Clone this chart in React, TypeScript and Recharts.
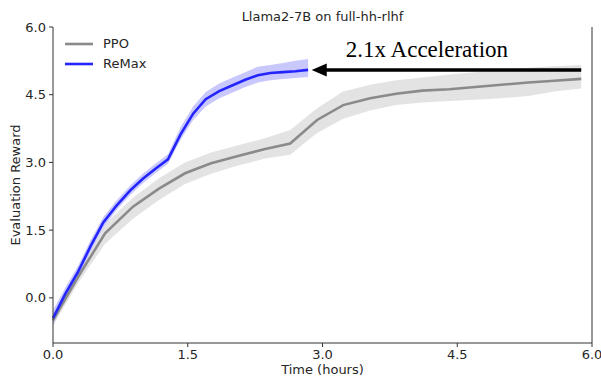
import React from 'react';
import {
  ComposedChart, Line, Area, XAxis, YAxis, ReferenceLine, ReferenceDot,
} from 'recharts';

// ---- data ----
const ppoTime = [0, 0.29, 0.58, 0.89, 1.18, 1.47, 1.76, 2.06, 2.35, 2.64, 2.94, 3.23, 3.53, 3.82, 4.11, 4.41, 4.70, 4.99, 5.29, 5.58, 5.88];
const ppoMean = [-0.5, 0.5, 1.43, 2.02, 2.42, 2.76, 2.98, 3.14, 3.29, 3.42, 3.94, 4.27, 4.42, 4.52, 4.59, 4.62, 4.67, 4.72, 4.77, 4.81, 4.85];
const ppoLow = [-0.62, 0.36, 1.2, 1.75, 2.17, 2.52, 2.75, 2.93, 3.08, 3.17, 3.65, 3.97, 4.15, 4.27, 4.33, 4.36, 4.39, 4.42, 4.47, 4.57, 4.64];
const ppoHigh = [-0.38, 0.64, 1.64, 2.22, 2.65, 3.0, 3.22, 3.38, 3.53, 3.72, 4.2, 4.57, 4.72, 4.82, 4.88, 4.95, 5.0, 5.05, 5.1, 5.13, 5.16];

const remaxTime = [0, 0.14, 0.28, 0.42, 0.56, 0.71, 0.86, 1.0, 1.14, 1.28, 1.42, 1.56, 1.70, 1.85, 2.0, 2.14, 2.28, 2.42, 2.56, 2.70, 2.84];
const remaxMean = [-0.45, 0.1, 0.58, 1.15, 1.67, 2.05, 2.38, 2.64, 2.86, 3.07, 3.62, 4.08, 4.4, 4.58, 4.71, 4.83, 4.93, 4.98, 5.0, 5.02, 5.05];
const remaxLow = [-0.6, -0.03, 0.46, 1.03, 1.56, 1.95, 2.28, 2.54, 2.76, 2.97, 3.5, 3.94, 4.24, 4.42, 4.55, 4.67, 4.77, 4.82, 4.85, 4.87, 4.89];
const remaxHigh = [-0.28, 0.24, 0.71, 1.28, 1.79, 2.16, 2.49, 2.75, 2.97, 3.18, 3.78, 4.24, 4.56, 4.75, 4.88, 5.0, 5.12, 5.16, 5.2, 5.25, 5.29];

const xTicks = [0, 1.5, 3, 4.5, 6];
const yTicks = [0, 1.5, 3, 4.5, 6];

const title = 'Llama2-7B on full-hh-rlhf';
const annotationText = '2.1x Acceleration';
const arrowTip = { x: 2.88, y: 5.05 };
const arrowTail = { x: 5.88, y: 5.05 };
const textAnchorPoint = { x: 3.26, y: 5.33 };

const series = [
  { name: 'PPO', color: '#8a8a8a', band: '#e3e3e3' },
  { name: 'ReMax', color: '#2424ff', band: '#c8c8fc' },
];

const ppoData = ppoTime.map((t, i) => ({ t, v: ppoMean[i], range: [ppoLow[i], ppoHigh[i]] }));
const remaxData = remaxTime.map((t, i) => ({ t, v: remaxMean[i], range: [remaxLow[i], remaxHigh[i]] }));

const FONT = 'DejaVu Sans';
const AXIS = '#333333';
const TEXT = '#262626';
const fmt = (v: number) => v.toFixed(1);

const LegendBox = () => (
  <div style={{ position: 'absolute', left: 65, top: 34, fontFamily: FONT, fontSize: 13, color: TEXT }}>
    {series.map((s) => (
      <div key={s.name} style={{ display: 'flex', alignItems: 'center', height: 20 }}>
        <svg width={28} height={4} style={{ display: 'block' }}>
          <line x1={0} y1={2} x2={28} y2={2} stroke={s.color} strokeWidth={2.6} />
        </svg>
        <span style={{ marginLeft: 10, lineHeight: '20px' }}>{s.name}</span>
      </div>
    ))}
  </div>
);

const ArrowHead = (props: any) => {
  const { cx, cy } = props;
  return <path d={`M${cx},${cy} L${cx + 15},${cy - 6.5} L${cx + 15},${cy + 6.5} Z`} fill="#000" />;
};

const AnnotationText = (props: any) => {
  const { cx, cy } = props;
  return (
    <text x={cx} y={cy} fontFamily="Liberation Serif" fontSize={23} fill="#000" textAnchor="start">
      {annotationText}
    </text>
  );
};

const YLabel = (props: any) => {
  const vb = props.viewBox || { x: 0, y: 27, width: 53, height: 316 };
  const x = 15;
  const y = vb.y + vb.height / 2;
  return (
    <text x={x} y={y} transform={`rotate(-90, ${x}, ${y})`} textAnchor="middle" dominantBaseline="central"
      fontFamily={FONT} fontSize={13} fill={TEXT}>
      Evaluation Reward
    </text>
  );
};

export default function App() {
  return (
    <div style={{ position: 'absolute', left: 0, top: 0, width: 601, height: 379 }}>
      <ComposedChart width={601} height={379} margin={{ top: 27, right: 4, bottom: 0, left: 0 }}>
        <XAxis
          dataKey="t" type="number" domain={[0, 6]} ticks={xTicks} tickFormatter={fmt}
          allowDuplicatedCategory={false}
          height={36} stroke={AXIS} tickSize={4} tickMargin={3}
          tick={{ fontFamily: FONT, fontSize: 13, fill: TEXT }}
          label={{ value: 'Time (hours)', position: 'insideBottom', offset: 5, fontFamily: FONT, fontSize: 13, fill: TEXT }}
        />
        <YAxis
          yAxisId="l" type="number" domain={[-1, 6]} ticks={yTicks} tickFormatter={fmt}
          width={53} stroke={AXIS} tickSize={4} tickMargin={3} allowDataOverflow
          tick={{ fontFamily: FONT, fontSize: 13, fill: TEXT }}
          label={{ content: (p: any) => <YLabel {...p} /> }}
        />
        <YAxis
          yAxisId="r" orientation="right" type="number" domain={[-1, 6]} ticks={yTicks}
          width={5} stroke={AXIS} tickSize={3} tick={false} allowDataOverflow
        />
        <Area yAxisId="l" data={ppoData} dataKey="range" type="linear" stroke="none" fill={series[0].band}
          fillOpacity={1} isAnimationActive={false} legendType="none" />
        <Area yAxisId="l" data={remaxData} dataKey="range" type="linear" stroke="none" fill={series[1].band}
          fillOpacity={1} isAnimationActive={false} legendType="none" />
        <Line yAxisId="l" data={ppoData} dataKey="v" name="PPO" type="linear" stroke={series[0].color}
          strokeWidth={2.6} dot={false} isAnimationActive={false} />
        <Line yAxisId="l" data={remaxData} dataKey="v" name="ReMax" type="linear" stroke={series[1].color}
          strokeWidth={2.6} dot={false} isAnimationActive={false} />
        <ReferenceLine yAxisId="l" segment={[{ x: arrowTip.x + 0.15, y: arrowTip.y }, arrowTail]}
          stroke="#000" strokeWidth={3.5} ifOverflow="visible" />
        <ReferenceDot yAxisId="l" x={arrowTip.x} y={arrowTip.y} shape={ArrowHead} ifOverflow="visible" />
        <ReferenceDot yAxisId="l" x={textAnchorPoint.x} y={textAnchorPoint.y} shape={AnnotationText} ifOverflow="visible" />
      </ComposedChart>
      <LegendBox />
      <svg width={601} height={30} style={{ position: 'absolute', left: 0, top: 0, pointerEvents: 'none' }}>
        <text x={322.5} y={21} textAnchor="middle" fontFamily={FONT} fontSize={13} fill={TEXT}>{title}</text>
      </svg>
    </div>
  );
}
